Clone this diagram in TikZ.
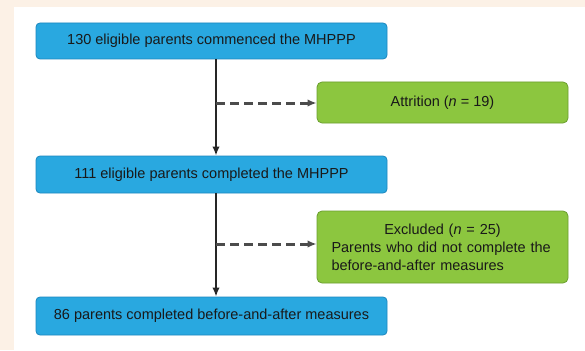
\documentclass[tikz,border=0pt]{standalone}
\usepackage{fontspec}
\setmainfont{Liberation Sans}
\usetikzlibrary{arrows.meta,positioning}
\definecolor{paper}{HTML}{FCF1E6}
\definecolor{flowblue}{HTML}{29A8E0}
\definecolor{flowblueedge}{HTML}{1B87BE}
\definecolor{flowgreen}{HTML}{8CC63F}
\definecolor{flowgreenedge}{HTML}{6B9F2F}

\begin{document}
\begin{tikzpicture}[x=1pt,y=-1pt,>={Latex[length=9pt,width=7.5pt]}, semithick,
      stage/.style={rectangle,rounded corners=4pt,fill=flowblue,draw=flowblueedge,thick,minimum width=351pt,text=black!90,font=\fontsize{14.5}{18}\selectfont},
      dropout/.style={rectangle,rounded corners=5pt,fill=flowgreen,draw=flowgreenedge,thick,minimum width=251pt,text=black!90,font=\fontsize{14.5}{18}\selectfont},
      skip/.style={dash pattern=on 9pt off 5pt,line width=3pt,black!70}]
    \useasboundingbox (0,0) rectangle (585,350);
    \fill[paper] (0,0) rectangle (585,350);
    \fill[white] (14,7) rectangle (585,350);
      \node[stage,minimum height=36pt] at (211.5,41) (s1) {130 eligible parents commenced the MHPPP};
      \node[stage,minimum height=37pt] at (211.5,174.5) (s2) {111 eligible parents completed the MHPPP};
      \node[stage,minimum height=38pt] at (211.5,316) (s3) {86 parents completed before-and-after measures};
    \node[dropout,minimum height=41pt] at (442.5,102.5) (d1) {Attrition (\textit{n} = 19)};
    \node[dropout,minimum height=72pt,text width=222pt,inner xsep=14.5pt,align=left] at (442.5,247) (d2)
      {\hfill Excluded (\textit{n} = 25)\hfill\null\\Parents who did not complete the\\before-and-after measures};
    \coordinate (j1) at (216,103);
    \coordinate (j2) at (216,244);
    \draw[line width=1.8pt,black!85,->] ([xshift=4.5pt]s1.south) -- ([xshift=4.5pt]s2.north);
        \draw[line width=1.8pt,black!85,->] ([xshift=4.5pt]s2.south) -- ([xshift=4.5pt]s3.north);
    \draw[skip,->] (j1) -- (j1 -| d1.west);
        \draw[skip,->] (j2) -- (j2 -| d2.west);
      \end{tikzpicture}
\end{document}
